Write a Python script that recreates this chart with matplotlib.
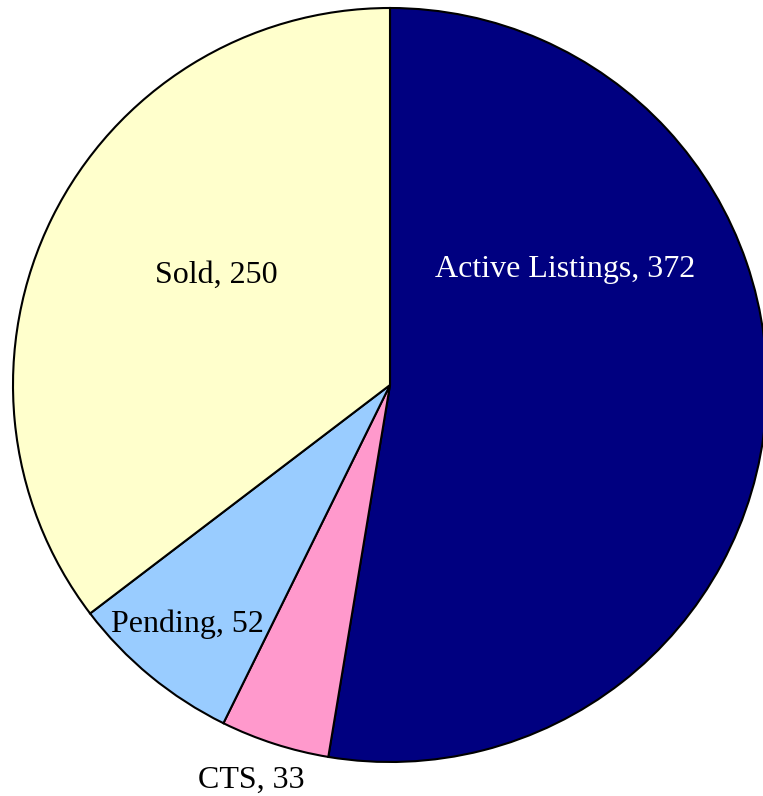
import matplotlib
matplotlib.use("Agg")
import matplotlib.pyplot as plt

categories = ["Active Listings", "CTS", "Pending", "Sold"]
values = [372, 33, 52, 250]
colors = ["#000080", "#FF99CC", "#99CCFF", "#FFFFCC"]
text_colors = ["white", "black", "black", "black"]

W, H = 763, 796
fig = plt.figure(figsize=(W / 100, H / 100), dpi=100)
ax = fig.add_axes([0, 0, 1, 1])

cx, cy, r = 390, H - 385, 377
ax.pie(values, colors=colors, startangle=90, counterclock=False,
       center=(cx, cy), radius=r, frame=True,
       wedgeprops=dict(edgecolor="black", linewidth=1.5))
ax.set_xlim(0, W)
ax.set_ylim(0, H)
ax.set_aspect("auto")
ax.axis("off")

# label anchor points (pixel layout, baseline centers)
label_pos = [(565, 277), (251, 788), (187, 632), (216, 283)]
for cat, val, (x, y), tc in zip(categories, values, label_pos, text_colors):
    ax.text(x, H - y, f"{cat}, {val}", ha="center", va="baseline",
            fontsize=23, family="Liberation Serif", color=tc, clip_on=False)

fig.savefig("out.png", dpi=100)
